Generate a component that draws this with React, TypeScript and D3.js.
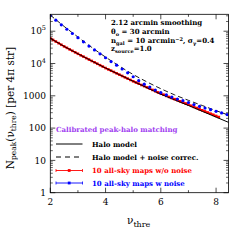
import React from "react";
import * as d3 from "d3";

const haloNu = [2.0, 2.5, 3.0, 3.5, 4.0, 4.5, 5.0, 5.5, 6.0, 6.5, 7.0, 7.5, 8.0, 8.5];
const haloModel = [60300, 33900, 20000, 12000, 7240, 4520, 2820, 1780, 1120, 750, 501, 331, 219, 145];
const haloNoise = [316000, 141000, 66100, 31600, 15800, 8320, 4570, 2690, 1660, 1070, 724, 501, 347, 245];

const redNu = [2.0,2.1,2.2,2.3,2.4,2.5,2.6,2.7,2.8,2.9,3.0,3.1,3.2,3.3,3.4,3.5,3.6,3.7,3.8,3.9,4.0,4.1,4.2,4.3,4.4,4.5,4.6,4.7,4.8,4.9,5.0,5.1,5.2,5.3,5.4,5.5,5.6,5.7,5.8,5.9,6.0,6.1,6.2,6.3,6.4,6.5,6.6,6.7,6.8,6.9,7.0,7.1,7.2,7.3,7.4,7.5,7.6,7.7,7.8,7.9,8.0,8.1];
const redVals = [60300,53700,47900,42700,38000,33900,30500,27400,24700,22200,20000,18000,16300,14700,13300,12000,10900,9820,8870,8020,7240,6590,6000,5460,4970,4520,4110,3740,3400,3100,2820,2580,2370,2160,1990,1820,1660,1520,1390,1270,1160,1080,995,920,850,787,728,673,622,575,532,491,453,418,385,356,328,303,279,258,238,220];

const blueNu = [2.0,2.2,2.4,2.6,2.8,3.0,3.2,3.4,3.6,3.8,4.0,4.2,4.4,4.6,4.8,5.0,5.2,5.4,5.6,5.8,6.0,6.2,6.4,6.6,6.8,7.0,7.2,7.4,7.6,7.8,8.0,8.2,8.4];
const blueVals = [302000,219000,158000,115000,85100,63100,46800,34700,26300,20000,15100,11500,8910,6760,5130,3890,2950,2290,1860,1510,1260,1070,912,794,708,617,537,468,417,372,331,295,263];

const xTicks = [2, 4, 6, 8];
const xMinor = [3, 5, 7];
const yTicks = [1, 10, 100, 1000, 10000, 100000];
const yTickLabels = ["1", "10", "100", "1000", "10^4", "10^5"];

const legendLabels = [
  "Halo model",
  "Halo model + noise correc.",
  "10 all-sky maps w/o noise",
  "10 all-sky maps w noise",
];

const L = 50.3, R = 228.5, T = 14.3, B = 192.7;
const FONT = "'DejaVu Serif', 'Liberation Serif', serif";

export default function App() {
  const x = d3.scaleLinear().domain([2, 8.45]).range([L, R]);
  const y = d3.scaleLog().domain([1, 334000]).range([B, T]);

  const line = (xs: number[], ys: number[]) =>
    d3.line<number>().x((_, i) => x(xs[i])).y((d) => y(d)).curve(d3.curveMonotoneX)(ys) || "";

  const minorY: number[] = [];
  for (let e = 0; e < 6; e++) {
    for (let m = 2; m <= 9; m++) {
      const v = m * Math.pow(10, e);
      if (v < 334000) minorY.push(v);
    }
  }

  const tickLabel = (s: string) => {
    if (s.startsWith("10^")) {
      return (
        <>
          10<tspan dy={-4} fontSize={6.5}>{s.slice(3)}</tspan>
        </>
      );
    }
    return s;
  };

  const legY = [144, 157, 170.5, 183];
  const legColors = ["#000", "#000", "#ff0000", "#0000ff"];

  return (
    <svg width={240} height={240} style={{ position: "absolute", left: 0, top: 0, background: "#fff" }}>
      <defs>
        <clipPath id="plot">
          <rect x={L} y={T} width={R - L} height={B - T} />
        </clipPath>
      </defs>
      <g clipPath="url(#plot)">
        <path d={line(redNu, redVals)} fill="none" stroke="#ff0000" strokeWidth={1.5} />
        {redNu.map((n, i) => (
          <rect key={"r" + i} x={x(n) - 1.3} y={y(redVals[i]) - 1.3} width={2.6} height={2.6} fill="#ff0000" />
        ))}
        <path d={line(haloNu, haloModel)} fill="none" stroke="#000" strokeWidth={1} />
        <path d={line(haloNu, haloNoise)} fill="none" stroke="#000" strokeWidth={0.9} strokeDasharray="5,3" />
        {blueNu.map((n, i) => (
          <circle key={"b" + i} cx={x(n)} cy={y(blueVals[i])} r={1.6} fill="#0000ff" />
        ))}
      </g>
      <rect x={L} y={T} width={R - L} height={B - T} fill="none" stroke="#000" strokeWidth={0.8} />
      {xTicks.map((t) => (
        <g key={"xt" + t}>
          <line x1={x(t)} x2={x(t)} y1={B} y2={B - 5} stroke="#000" strokeWidth={0.7} />
          <line x1={x(t)} x2={x(t)} y1={T} y2={T + 5} stroke="#000" strokeWidth={0.7} />
          <text x={x(t)} y={205} fontSize={9} fontFamily={FONT} textAnchor="middle">{t}</text>
        </g>
      ))}
      {xMinor.map((t) => (
        <g key={"xm" + t}>
          <line x1={x(t)} x2={x(t)} y1={B} y2={B - 2.5} stroke="#000" strokeWidth={0.7} />
          <line x1={x(t)} x2={x(t)} y1={T} y2={T + 2.5} stroke="#000" strokeWidth={0.7} />
        </g>
      ))}
      {yTicks.map((t, i) => (
        <g key={"yt" + t}>
          <line x1={L} x2={L + 5} y1={y(t)} y2={y(t)} stroke="#000" strokeWidth={0.7} />
          <line x1={R} x2={R - 5} y1={y(t)} y2={y(t)} stroke="#000" strokeWidth={0.7} />
          <text x={46} y={y(t) + 3.2} fontSize={9} fontFamily={FONT} textAnchor="end">{tickLabel(yTickLabels[i])}</text>
        </g>
      ))}
      {minorY.map((t) => (
        <g key={"ym" + t}>
          <line x1={L} x2={L + 2.5} y1={y(t)} y2={y(t)} stroke="#000" strokeWidth={0.6} />
          <line x1={R} x2={R - 2.5} y1={y(t)} y2={y(t)} stroke="#000" strokeWidth={0.6} />
        </g>
      ))}
      <text x={127} y={224} fontSize={10.5} fontFamily={FONT}>
        ν<tspan dy={2.5} fontSize={8}>thre</tspan>
      </text>
      <text transform="translate(13.5,108) rotate(-90)" fontSize={10.5} fontFamily={FONT} textAnchor="middle">
        N<tspan dy={2.5} fontSize={7.5}>peak</tspan><tspan dy={-2.5}>(ν</tspan><tspan dy={2.5} fontSize={7.5}>thre</tspan><tspan dy={-2.5}>) [per 4π str]</tspan>
      </text>
      <g fontFamily={FONT} fontSize={7} fontWeight="bold">
        <text x={111} y={25}>2.12 arcmin smoothing</text>
        <text x={111} y={34}>θ<tspan dy={1.8} fontSize={5}>o</tspan><tspan dy={-1.8}> = 30 arcmin</tspan></text>
        <text x={111} y={43}>n<tspan dy={1.8} fontSize={5}>gal</tspan><tspan dy={-1.8}> = 10 arcmin</tspan><tspan dy={-2.5} fontSize={5}>−2</tspan><tspan dy={2.5}>, σ</tspan><tspan dy={1.8} fontSize={5}>γ</tspan><tspan dy={-1.8}>=0.4</tspan></text>
        <text x={111} y={51}>z<tspan dy={1.8} fontSize={5}>source</tspan><tspan dy={-1.8}>=1.0</tspan></text>
      </g>
      <g fontFamily={FONT} fontSize={7} fontWeight="bold">
        <text x={56} y={131.5} fill="#a040f0">Calibrated peak-halo matching</text>
        {legendLabels.map((lab, i) => (
          <g key={"lg" + i}>
            <line x1={56} x2={82.5} y1={legY[i]} y2={legY[i]} stroke={legColors[i]} strokeWidth={i < 2 ? 1 : 0.9} strokeDasharray={i === 1 ? "5,4" : undefined} />
            {i >= 2 && (
              <>
                <line x1={56} x2={56} y1={legY[i] - 1.5} y2={legY[i] + 1.5} stroke={legColors[i]} strokeWidth={0.8} />
                <line x1={82.5} x2={82.5} y1={legY[i] - 1.5} y2={legY[i] + 1.5} stroke={legColors[i]} strokeWidth={0.8} />
                <rect x={67.8} y={legY[i] - 1.4} width={2.8} height={2.8} fill={legColors[i]} />
              </>
            )}
            <text x={92} y={legY[i] + 2.5} fill={legColors[i]}>{lab}</text>
          </g>
        ))}
      </g>
    </svg>
  );
}
